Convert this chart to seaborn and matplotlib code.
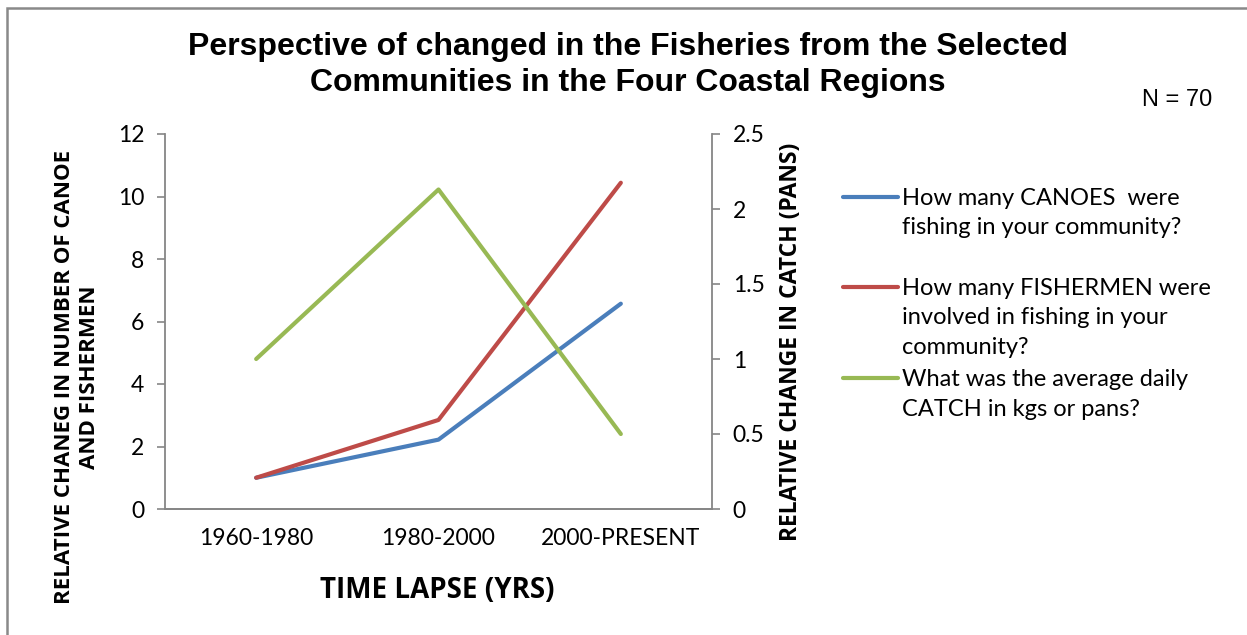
import pandas as pd
import matplotlib.pyplot as plt
import seaborn as sns
from matplotlib.lines import Line2D
from matplotlib.patches import Rectangle

# Dados
periodos = ['1960-1980', '1980-2000', '2000-PRESENT']
canoas = [1.0, 2.22, 6.57]
pescadores = [1.0, 2.85, 10.44]
captura = [1.0, 2.13, 0.50]

rotulos = [
    'How many CANOES  were\nfishing in your community?',
    'How many FISHERMEN were\ninvolved in fishing in your\ncommunity?',
    'What was the average daily\nCATCH in kgs or pans?',
]
cores = ['#4A7EBB', '#BE4B48', '#98B954']
cinza = '#868686'

sns.set_theme(style="white")
plt.rcParams['font.family'] = ['Lato', 'DejaVu Sans']
plt.rcParams['text.color'] = 'black'
plt.rcParams['xtick.color'] = 'black'
plt.rcParams['ytick.color'] = 'black'

df_esq = pd.DataFrame({
    'periodo': periodos * 2,
    'valor': canoas + pescadores,
    'serie': [rotulos[0]] * 3 + [rotulos[1]] * 3,
})
df_dir = pd.DataFrame({'periodo': periodos, 'valor': captura})

fig = plt.figure(figsize=(12.47, 6.35), dpi=100)
ax = fig.add_axes([165 / 1247, 1 - 509 / 635, (712 - 165) / 1247, (509 - 134) / 635])

sns.lineplot(data=df_esq, x='periodo', y='valor', hue='serie', palette=cores[:2],
             linewidth=3, ax=ax, legend=False, sort=False)
ax2 = ax.twinx()
sns.lineplot(data=df_dir, x='periodo', y='valor', color=cores[2],
             linewidth=3, ax=ax2, legend=False, sort=False)

ax.set_xlim(-0.5, 2.5)
ax.set_ylim(0, 12)
ax2.set_ylim(0, 2.5)
ax.set_yticks(range(0, 13, 2))
ax2.set_yticks([0, 0.5, 1, 1.5, 2, 2.5])
ax2.set_yticklabels(['0', '0.5', '1', '1.5', '2', '2.5'])

ax.set_xticks(range(len(periodos)))
ax.set_xticklabels(periodos)
ax.set_xticks([-0.5, 0.5, 1.5, 2.5], minor=True)
ax.tick_params(axis='x', which='major', length=0, pad=14, labelsize=16.5, colors='black')
ax.tick_params(axis='x', which='minor', length=6, width=1.2, color=cinza, direction='out')
ax.tick_params(axis='y', length=6, width=1.2, color=cinza, labelcolor='black',
               direction='out', pad=9, labelsize=16.5, left=True)
ax2.tick_params(axis='y', length=6, width=1.2, color=cinza, labelcolor='black',
                direction='out', pad=9, labelsize=16.5, right=True)

for a in (ax, ax2):
    a.set_xlabel('')
    a.set_ylabel('')
    a.spines['top'].set_visible(False)
    for s in ('left', 'right', 'bottom'):
        a.spines[s].set_color(cinza)
        a.spines[s].set_linewidth(1.3)
ax.spines['right'].set_visible(False)
ax2.spines['left'].set_visible(False)

# Títulos e rótulos
fonte_titulo = dict(ha='center', va='center', fontsize=23, fontweight='bold',
                    family='Liberation Sans')
fig.text(628 / 1247, 1 - 47 / 635,
         'Perspective of changed in the Fisheries from the Selected', **fonte_titulo)
fig.text(628 / 1247, 1 - 83 / 635, 'Communities in the Four Coastal Regions', **fonte_titulo)
fig.text(1177 / 1247, 1 - 100 / 635, 'N = 70', ha='center', va='center', fontsize=17,
         family='Liberation Sans')
fig.text(77 / 1247, 1 - 377 / 635, 'RELATIVE CHANEG IN NUMBER OF CANOE\nAND FISHERMEN',
         rotation=90, ha='center', va='center', multialignment='center',
         fontsize=16, fontweight='bold', family='Open Sans', linespacing=1.3)
fig.text(791 / 1247, 1 - 342 / 635, 'RELATIVE CHANGE IN CATCH (PANS)', rotation=90,
         ha='center', va='center', fontsize=16.5, fontweight='bold', family='Open Sans')
fig.text(437 / 1247, 1 - 590 / 635, 'TIME LAPSE (YRS)', ha='center', va='center',
         fontsize=20, fontweight='bold', family='Open Sans')

# Legenda (linha alinhada com a primeira linha do texto)
posicoes = [197, 287, 378]
for cor, rot, y in zip(cores, rotulos, posicoes):
    yf = 1 - y / 635
    fig.add_artist(Line2D([843 / 1247, 898 / 1247], [yf, yf], color=cor, lw=3,
                          solid_capstyle='round'))
    fig.text(902 / 1247, yf + 9 / 635, rot, ha='left', va='top', fontsize=17,
             linespacing=1.5)

# Borda do gráfico
fig.add_artist(Rectangle((7 / 1247, -0.1), 1.2, 1 - 8 / 635 + 0.1, transform=fig.transFigure,
                         fill=False, edgecolor='#898989', lw=1.8))

fig.savefig('out.png', dpi=100)
